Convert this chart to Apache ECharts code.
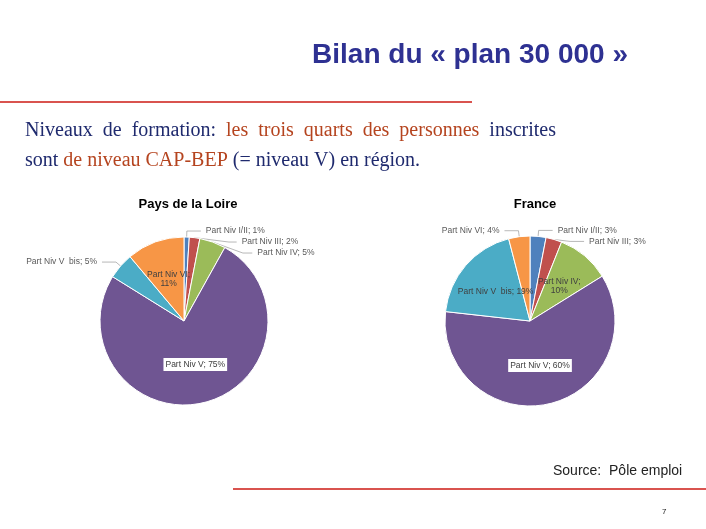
<!DOCTYPE html>
<html>
<head>
<meta charset="utf-8" />
<script src="https://cdn.jsdelivr.net/npm/echarts@6/dist/echarts.min.js"></script>
<style>html,body{margin:0;height:100%;background:#fff}</style>
</head>
<body>
<div id="main" style="width:706px;height:529px;"></div>
<script>
var categories = ['Part Niv I/II', 'Part Niv III', 'Part Niv IV', 'Part Niv V', 'Part Niv V  bis', 'Part Niv VI'];
var paysDeLaLoire = [1, 2, 5, 75, 5, 11];
var france = [3, 3, 10, 60, 19, 4];
var colors = ['#4f81bd', '#c0504d', '#9bbb59', '#6f5592', '#4bacc6', '#f79646'];

// which labels sit inside the slice
var insideLeft = [false, false, false, true, false, true];
var insideRight = [false, false, true, true, true, false];

function buildData(values, inside) {
    return categories.map(function (c, i) {
        var wrap = (c === 'Part Niv VI' || c === 'Part Niv IV');
        return {
            name: c, value: values[i],
            label: inside[i]
                ? { position: 'inside', formatter: wrap ? '{b};\n{c}%' : '{b}; {c}%',
                    backgroundColor: c === 'Part Niv V' ? '#fff' : 'transparent', padding: 2, color: '#404040' }
                : { position: 'outside', formatter: '{b}; {c}%' }
        };
    });
}

var base = {
    type: 'pie',
    radius: 84,
    startAngle: 90,
    clockwise: true,
    itemStyle: { borderColor: '#fff', borderWidth: 1 },
    label: { fontSize: 8.5, color: '#595959', fontFamily: 'Liberation Sans' },
    labelLine: { length: 6, length2: 14, lineStyle: { color: '#888', width: 0.6 } },
    emphasis: { disabled: true }
};

var serif = { fontSize: 20, fontFamily: 'Liberation Serif', fontWeight: 'normal', lineHeight: 30 };
var myChart = echarts.init(document.getElementById('main'));
myChart.setOption({
    color: colors,
    animation: false,
    title: [
        { text: 'Bilan du « plan 30 000 »', left: 465, top: 36, textAlign: 'center',
          textStyle: { color: '#2e3192', fontSize: 28, fontWeight: 'bold', fontFamily: 'Liberation Sans' } },
        { text: '{u|Niveaux  de  formation:}  {o|les  trois  quarts  des  personnes}  {b|inscrites}\n{b|sont} {o|de niveau CAP-BEP} {b|(= niveau V) en région.}',
          left: 20, top: 111,
          textStyle: { fontWeight: 'normal', rich: {
              u: Object.assign({ color: '#1f2a6e', textDecoration: 'underline' }, serif),
              o: Object.assign({ color: '#b5441f' }, serif),
              b: Object.assign({ color: '#1f2a6e' }, serif)
          } } },
        { text: 'Pays de la Loire', left: 183, top: 193, textAlign: 'center',
          textStyle: { fontSize: 13, fontWeight: 'bold', color: '#000', fontFamily: 'Liberation Sans' } },
        { text: 'France', left: 530, top: 193, textAlign: 'center',
          textStyle: { fontSize: 13, fontWeight: 'bold', color: '#000', fontFamily: 'Liberation Sans' } },
        { text: 'Source:  Pôle emploi', left: 548, top: 459,
          textStyle: { fontSize: 14, fontWeight: 'normal', color: '#222', fontFamily: 'Liberation Sans' } },
        { text: '7', left: 657, top: 503,
          textStyle: { fontSize: 8, fontWeight: 'normal', color: '#222', fontFamily: 'Liberation Sans' } }
    ],
    graphic: [
        { type: 'line', shape: { x1: 0, y1: 102, x2: 472, y2: 102 }, style: { stroke: '#d9534f', lineWidth: 2 } },
        { type: 'line', shape: { x1: 233, y1: 489, x2: 706, y2: 489 }, style: { stroke: '#d9534f', lineWidth: 2 } }
    ],
    series: [
        Object.assign({}, base, { center: [184, 321], data: buildData(paysDeLaLoire, insideLeft) }),
        Object.assign({}, base, { center: [530, 321], radius: 85, data: buildData(france, insideRight) })
    ]
});
</script>
</body>
</html>
